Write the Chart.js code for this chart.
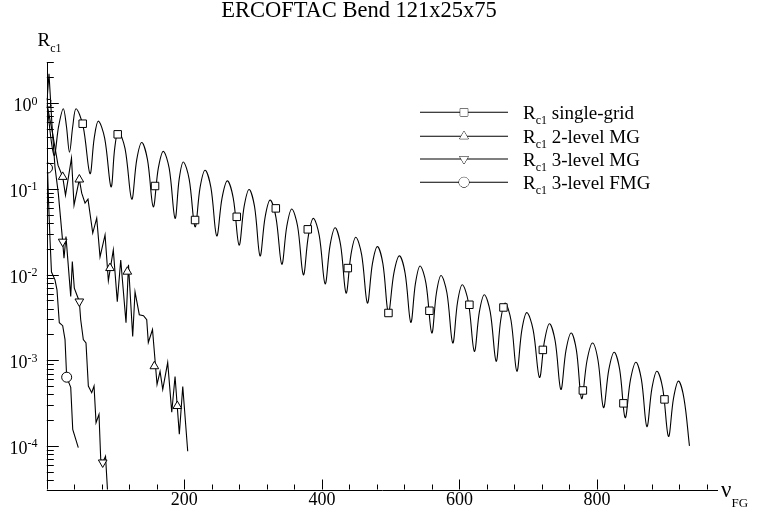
<!DOCTYPE html>
<html>
<head>
<meta charset="utf-8">
<title>ERCOFTAC Bend 121x25x75</title>
<script src="https://cdn.jsdelivr.net/npm/chart.js@4.4.0/dist/chart.umd.min.js"></script>
<style>
  html, body { margin: 0; padding: 0; background: #fff; }
  canvas { display: block; }
</style>
</head>
<body>
<canvas id="chart" width="758" height="515"></canvas>
<script>
// values (x = fine-grid cycles, y = residual)
const chartTitle = "ERCOFTAC Bend 121x25x75";
const seriesNames = ["single-grid", "2-level MG", "3-level MG", "3-level FMG"];
const xTickLabels = [200, 400, 600, 800];
const yTickExponents = ["0", "-1", "-2", "-3", "-4"];

// single-grid: dip, shoulder, peak, shoulder, dip ...
const singleX = [
  0, 10.5, 17.3, 24, 28.5, 33, 37.8, 42.5, 52.7, 62.8, 68.9, 74.9, 84.2,
  93.4, 98.7, 104, 113.8, 123.5, 130.8, 138, 146.4, 154.8, 162.1, 169.4, 178,
  186.5, 192.5, 198.5, 207, 215.6, 222.9, 230.1, 238.6, 247.1, 254.8, 262.5, 271.1,
  279.6, 286.9, 294.1, 302.1, 310.1, 317.4, 324.7, 333.2, 341.7, 349, 356.2, 364.7,
  373.1, 380.4, 387.6, 396.2, 404.7, 412, 419.2, 427.2, 435.2, 442.3, 449.3, 457.8,
  466.2, 473.5, 480.7, 488.7, 496.7, 504.7, 512.7, 521, 529.3, 536.1, 542.8, 551.3,
  559.8, 566.6, 573.3, 581.8, 590.3, 597.3, 604.2, 613, 621.7, 629, 636.2, 644.8,
  653.4, 660, 666.5, 675, 683.5, 690.8, 698, 707.2, 716.4, 723.7, 730.9, 739.2,
  747.5, 755, 762.5, 770.1, 777.7, 785.6, 793.5, 801.5, 809.5, 817.3, 825, 833,
  841, 848.8, 856.6, 864.6, 872.6, 879.9, 887.1, 895.6, 904, 911.3, 918.5, 926.5,
  934.5
];
const singleY = [
  1.0, 0.246, 0.542, 0.861, 0.542, 0.267, 0.542, 0.861, 0.542, 0.151, 0.389, 0.618, 0.389,
  0.1055, 0.295, 0.469, 0.295, 0.0759, 0.219, 0.347, 0.219, 0.0618, 0.173, 0.274, 0.173,
  0.0453, 0.130, 0.206, 0.130, 0.0361, 0.104, 0.165, 0.104, 0.0282, 0.0781, 0.124, 0.0781,
  0.0221, 0.062, 0.0984, 0.062, 0.0165, 0.0466, 0.0739, 0.0466, 0.0132, 0.0366, 0.0581, 0.0366,
  0.00993, 0.0285, 0.0453, 0.0285, 0.0078, 0.0222, 0.0352, 0.0222, 0.00608, 0.0171, 0.0272, 0.0171,
  0.00465, 0.0134, 0.0212, 0.0134, 0.00359, 0.0104, 0.0165, 0.0104, 0.00277, 0.00794, 0.0126, 0.00794,
  0.00208, 0.00613, 0.00973, 0.00613, 0.00159, 0.00478, 0.00759, 0.00478, 0.00127, 0.00366, 0.00581, 0.00366,
  0.000973, 0.00293, 0.00465, 0.00293, 0.000745, 0.00226, 0.00359, 0.00226, 0.000629, 0.00168, 0.00267, 0.00168,
  0.000456, 0.00131, 0.00208, 0.00131, 0.000356, 0.001, 0.00159, 0.001, 0.00028, 0.000781, 0.00124, 0.000781,
  0.000214, 0.000597, 0.000948, 0.000597, 0.000168, 0.000469, 0.000745, 0.000469, 0.000129, 0.000359, 0.00057, 0.000359,
  0.0001
];
const singleMarkX = [0, 52.2, 103.1, 157.4, 215.6, 276.2, 333, 379.5, 437.7, 496.8, 556.4, 614.5, 664, 721.3, 779.5, 838.5, 898.2];
const singleMarkY = [1.0, 0.576, 0.433, 0.108, 0.0433, 0.0472, 0.0592, 0.0337, 0.0119, 0.00356, 0.00378, 0.00444, 0.00413, 0.00132, 0.000444, 0.000314, 0.000349];

// 2-level MG
const mg2X = [0, 7.6, 16.3, 23.1, 27.2, 35.9, 39.6, 47.3, 50.8, 55.6, 59.9, 66.8, 72.6, 77.4, 84.7, 89.5, 96.7, 102.5, 107.5,
  115.2, 118.8, 124.9, 128.3, 134.5, 140.6, 145.3, 147.6, 153.7, 160.3, 164.7, 168.6, 175.8, 181.7, 186.5, 192.7, 197.7, 204.9];
const mg2Y = [1.0, 0.482, 0.189, 0.138, 0.0845, 0.228, 0.0646, 0.1286, 0.0891, 0.0682, 0.0759, 0.0305, 0.0456, 0.0161, 0.029, 0.00845, 0.0194, 0.00482, 0.0148,
  0.00274, 0.013, 0.00189, 0.00629, 0.0034, 0.00331, 0.00297, 0.00161, 0.00228, 0.000521, 0.00074, 0.000457, 0.00094, 0.000247, 0.000647, 0.000137, 0.000494, 0.0000867];
const mg2MarkX = [0, 23.1, 47.3, 91.9, 117.1, 156.4, 189.8];
const mg2MarkY = [1.0, 0.138, 0.1286, 0.0119, 0.0108, 0.000851, 0.000292];

// 3-level MG
const mg3X = [0, 3.2, 7.6, 11.9, 16.7, 23.1, 25, 27.9, 34.8, 37.1, 40, 47.3, 49.3, 53.1, 57, 60.4, 65.3, 68.7, 71.6, 75.9, 78.4, 81.3, 85.4, 88.6];
const mg3Y = [1.0, 2.21, 0.55, 0.179, 0.0891, 0.0242, 0.0155, 0.0277, 0.00555, 0.0142, 0.00695, 0.00485, 0.00297, 0.00174, 0.00159, 0.000499, 0.000418, 0.000499, 0.000187, 0.000234, 0.00007, 0.0000641, 0.0000759, 0.0000274];
const mg3MarkX = [0, 23.1, 47.3, 81.3];
const mg3MarkY = [1.0, 0.0242, 0.00485, 0.0000641];

// 3-level FMG
const fmgX = [1, 2.5, 4.7, 6.8, 11.9, 14.8, 18.2, 23.1, 26.5, 28.9, 34.8, 37.7, 45.8];
const fmgY = [0.175, 0.0739, 0.0253, 0.0107, 0.00867, 0.00664, 0.00274, 0.00253, 0.00174, 0.000634, 0.000482, 0.000156, 0.0000957];
const fmgMarkX = [1, 28.9];
const fmgMarkY = [0.175, 0.000634];

const SERIF = '"Liberation Serif", "Times New Roman", Times, serif';
const font = (size) => size + "px " + SERIF;

function toPoints(xs, ys) {
  return xs.map((x, i) => ({ x: x, y: ys[i] }));
}

const markerStyles = [
  { pointStyle: "rect", radius: 5.3, rotation: 0 },
  { pointStyle: "triangle", radius: 5, rotation: 0 },
  { pointStyle: "triangle", radius: 5, rotation: 180 },
  { pointStyle: "circle", radius: 5, rotation: 0 },
];

function lineSet(xs, ys, tension) {
  return {
    data: toPoints(xs, ys),
    borderColor: "#000",
    borderWidth: 1.1,
    pointRadius: 0,
    tension: tension,
    fill: false,
    order: 2,
  };
}

function markSet(xs, ys, style) {
  return {
    data: toPoints(xs, ys),
    showLine: false,
    pointStyle: style.pointStyle,
    pointRadius: style.radius,
    pointRotation: style.rotation,
    pointBackgroundColor: "#fff",
    pointBorderColor: "#000",
    pointBorderWidth: 1,
    order: 1,
  };
}

// draws the frame, inward ticks, labels, sub/superscripts and legend
const decorations = {
  id: "decorations",
  afterDraw(chart) {
    const { ctx, chartArea: a, scales } = chart;
    const xs = scales.x;
    const ys = scales.y;
    ctx.save();
    ctx.strokeStyle = "#000";
    ctx.fillStyle = "#000";
    ctx.lineWidth = 1;

    // axes
    ctx.beginPath();
    ctx.moveTo(Math.round(a.left) + 0.5, a.top);
    ctx.lineTo(Math.round(a.left) + 0.5, a.bottom);
    ctx.moveTo(a.left, Math.round(a.bottom) + 0.5);
    ctx.lineTo(a.right, Math.round(a.bottom) + 0.5);

    // y ticks, majors at decades
    for (let e = -5; e <= 0; e++) {
      for (let m = 1; m <= 9; m++) {
        const v = m * Math.pow(10, e);
        if (v < ys.min || v > ys.max * 1.001) continue;
        const py = Math.round(ys.getPixelForValue(v)) + 0.5;
        ctx.moveTo(a.left, py);
        ctx.lineTo(a.left + (m === 1 ? 12 : 7), py);
      }
    }
    // x ticks every 40, majors every 200
    for (let v = 40; v <= xs.max; v += 40) {
      const px = Math.round(xs.getPixelForValue(v)) + 0.5;
      ctx.moveTo(px, a.bottom);
      ctx.lineTo(px, a.bottom - (v % 200 === 0 ? 10 : 5));
    }
    ctx.stroke();

    // y tick labels 10^n
    ctx.textAlign = "left";
    ctx.textBaseline = "alphabetic";
    yTickExponents.forEach((ex) => {
      const py = ys.getPixelForValue(Math.pow(10, Number(ex)));
      ctx.font = font(18);
      const wb = ctx.measureText("10").width;
      ctx.font = font(12);
      const we = ctx.measureText(ex).width;
      const x0 = 37.5 - wb - we;
      ctx.font = font(18);
      ctx.fillText("10", x0, py + 8);
      ctx.font = font(12);
      ctx.fillText(ex, x0 + wb, py + 1.5);
    });

    // x tick labels
    ctx.textAlign = "center";
    ctx.font = font(18);
    xTickLabels.forEach((v) => {
      ctx.fillText(String(v), xs.getPixelForValue(v), 505);
    });

    // title
    ctx.font = font(22.5);
    ctx.fillText(chartTitle, 359, 17);

    // axis titles
    ctx.textAlign = "left";
    ctx.font = font(19);
    ctx.fillText("R", 37.5, 46);
    let w = ctx.measureText("R").width;
    ctx.font = font(12);
    ctx.fillText("c1", 37.5 + w, 52);

    ctx.font = font(23);
    ctx.fillText("\u03bd", 721, 497);
    w = ctx.measureText("\u03bd").width;
    ctx.font = font(13);
    ctx.fillText("FG", 721 + w, 507);

    // legend
    const rows = [112.3, 136.3, 159, 182.3];
    seriesNames.forEach((name, i) => {
      const y = rows[i];
      ctx.beginPath();
      ctx.lineWidth = 1.1;
      ctx.moveTo(420, y);
      ctx.lineTo(508, y);
      ctx.stroke();
      const st = markerStyles[i];
      ctx.fillStyle = "#fff";
      ctx.lineWidth = 1;
      Chart.helpers.drawPoint(ctx, {
        pointStyle: st.pointStyle, radius: st.radius, rotation: st.rotation, borderWidth: 1,
      }, 464, y);
      ctx.fill();
      ctx.fillStyle = "#000";
      ctx.font = font(19);
      ctx.fillText("R", 523, y + 7);
      const wr = ctx.measureText("R").width;
      ctx.font = font(12);
      ctx.fillText("c1", 523 + wr, y + 12);
      const wc = ctx.measureText("c1").width;
      ctx.font = font(19);
      ctx.fillText(" " + name, 523 + wr + wc, y + 7);
    });
    ctx.restore();
  },
};

new Chart(document.getElementById("chart"), {
  type: "line",
  data: {
    datasets: [
      lineSet(singleX, singleY, 0.35),
      lineSet(mg2X, mg2Y, 0),
      lineSet(mg3X, mg3Y, 0),
      lineSet(fmgX, fmgY, 0),
      markSet(singleMarkX, singleMarkY, markerStyles[0]),
      markSet(mg2MarkX, mg2MarkY, markerStyles[1]),
      markSet(mg3MarkX, mg3MarkY, markerStyles[2]),
      markSet(fmgMarkX, fmgMarkY, markerStyles[3]),
    ],
  },
  options: {
    responsive: false,
    animation: false,
    layout: { padding: { left: 46.8, top: 62.3, right: 40, bottom: 25.5 } },
    plugins: {
      legend: { display: false },
      tooltip: { enabled: false },
      title: { display: false },
    },
    scales: {
      x: { type: "linear", display: false, min: 0, max: 976 },
      y: { type: "logarithmic", display: false, min: 3.1e-5, max: 3.0 },
    },
  },
  plugins: [decorations],
});
</script>
</body>
</html>
